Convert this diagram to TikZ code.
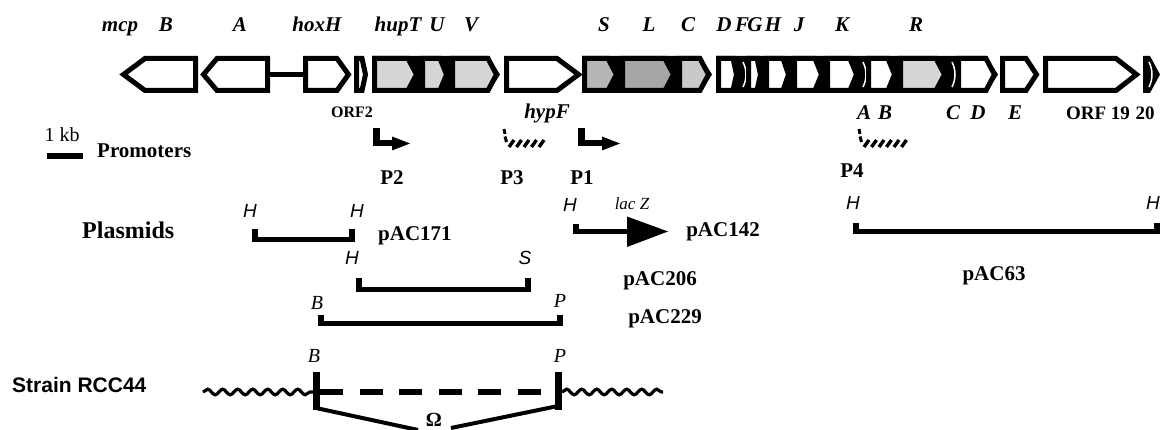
\documentclass[tikz,border=0pt]{standalone}
\usepackage{fontspec}
\setmainfont{Liberation Serif}
\newfontfamily\helv{Liberation Sans}
\usetikzlibrary{decorations.pathmorphing}

\tikzset{
  gene/.style={draw=black, line width=5pt, line join=miter},
  glabel/.style={font=\fontsize{21}{21}\selectfont\bfseries\itshape, anchor=base, inner sep=0pt},
  blabel/.style={font=\fontsize{21}{21}\selectfont\bfseries, anchor=base, inner sep=0pt},
  hsite/.style={font=\fontsize{19}{19}\selectfont\helv\itshape, anchor=base, inner sep=0pt},
  tsite/.style={font=\fontsize{20}{20}\selectfont\itshape, anchor=base, inner sep=0pt},
  bar/.style={line width=5pt},
  chrom/.style={line width=3.2pt, decorate, decoration={snake, amplitude=2.8pt, segment length=15pt}},
}

% rightward gene: left edge, end of body, tip, fill colour
\newcommand{\rgene}[4]{%
  \filldraw[gene, fill=#4] ({#1+2.5},58.5) -- (#2,58.5) -- ({#3-3.5},74.5) -- (#2,90.5) -- ({#1+2.5},90.5) -- cycle;}
% leftward gene: tip, start of body, right edge, fill colour
\newcommand{\lgene}[4]{%
  \filldraw[gene, fill=#4] ({#1+3.5},74.5) -- (#2,58.5) -- ({#3-2.5},58.5) -- ({#3-2.5},90.5) -- (#2,90.5) -- cycle;}
% black backing of a run of touching genes
\newcommand{\genehull}[3]{%
  \fill (#1,56) -- (#2,56) -- (#3,74.5) -- (#2,93) -- (#1,93) -- cycle;}
% very short gene inside a run
\newcommand{\slimgene}[1]{%
  \draw[white, line width=1.5pt] (#1,62) .. controls ({#1+4},70) and ({#1+4},79) .. (#1,87);}
% bent promoter arrow: position, tip
\newcommand{\bentprom}[2]{%
  \fill ({#1-3},128) rectangle ({#1+4},146.5);
  \fill ({#1-3},140.5) rectangle ({#2-18},146.5);
  \fill ({#2-18},136.5) -- (#2,143.5) -- ({#2-18},150.5) -- cycle;}
% hatched (putative) promoter: position, number of strokes - 1
\newcommand{\hatchprom}[2]{%
  \draw[line width=3pt] (#1,129) -- ({#1+1},134);
  \draw[line width=3pt] ({#1+1},136.5) -- ({#1+2.5},142);
  \foreach \i in {0,...,#2}{\draw[line width=3.4pt] ({#1+5+7.5*\i},147) -- ({#1+10+7.5*\i},140);}}
% cloned fragment: name, left, right, line height, top of end marks
\newcommand{\plasmid}[5]{%
  \coordinate (#1-l) at (#2,#4); \coordinate (#1-r) at (#3,#4);
  \draw[bar] (#1-l) -- (#1-r);
  \fill (#2,#5) rectangle ({#2+6},{#4+2.5});
  \fill ({#3-6},#5) rectangle (#3,{#4+2.5});}

\begin{document}
\begin{tikzpicture}[x=1pt, y=-1pt]
\useasboundingbox (0,0) rectangle (1160,430);

% ---------- gene map ----------
\lgene{120}{145}{198}{white}
\lgene{200}{217}{270}{white}
\draw[line width=5pt] (270,74.5) -- (303,74.5);
\rgene{303}{337}{352}{white}
\rgene{354}{362}{369}{white}

\genehull{372}{488}{500}
\rgene{372}{408}{420}{gray!32}
\rgene{420}{440}{450}{gray!32}
\rgene{450}{488}{500}{gray!32}

\rgene{504}{557}{582}{white}

\genehull{582}{700}{712}
\rgene{582}{608}{620}{gray!58}
\rgene{620}{665}{677}{gray!70}
\rgene{677}{700}{712}{gray!42}

\genehull{716}{986}{998}
\rgene{716}{733}{740}{white}
\slimgene{743}
\rgene{746}{757}{764}{white}
\rgene{764}{783}{792}{white}
\rgene{792}{815}{825}{white}
\rgene{825}{850}{860}{white}
\slimgene{863}
\rgene{866}{888}{898}{white}
\rgene{898}{936}{948}{gray!32}
\slimgene{952}
\rgene{956}{986}{998}{white}

\rgene{1000}{1026}{1040}{white}
\rgene{1043}{1116}{1140}{white}
\genehull{1143}{1150}{1160}
\slimgene{1149}

% gene names above the map
\node[glabel] (g-mcp)  at (120,32) {mcp};
\node[glabel] (g-B)    at (166,32) {B};
\node[glabel] (g-A)    at (240,32) {A};
\node[glabel] (g-hoxH) at (317,32) {hoxH};
\node[glabel] (g-hupT) at (398,32) {hupT};
\node[glabel] (g-U)    at (437,32) {U};
\node[glabel] (g-V)    at (471,32) {V};
\node[glabel] (g-S)    at (604,32) {S};
\node[glabel] (g-L)    at (649,32) {L};
\node[glabel] (g-C)    at (688,32) {C};
\node[glabel] (g-D)    at (724,32) {D};
\node[glabel] (g-F)    at (742,32) {F};
\node[glabel] (g-G)    at (755,32) {G};
\node[glabel] (g-H)    at (773,32) {H};
\node[glabel] (g-J)    at (799,32) {J};
\node[glabel] (g-K)    at (842,32) {K};
\node[glabel] (g-R)    at (916,32) {R};

% gene names below the map
\node[blabel, font=\fontsize{16}{16}\selectfont\bfseries] (g-orf2) at (352,118) {ORF2};
\node[glabel] (g-hypF) at (547,119) {hypF};
\node[glabel] (g-hypA) at (864,120) {A};
\node[glabel] (g-hypB) at (885,120) {B};
\node[glabel] (g-hypC) at (953,120) {C};
\node[glabel] (g-hypD) at (978,120) {D};
\node[glabel] (g-hypE) at (1015,120) {E};
\node[blabel, font=\fontsize{19}{19}\selectfont\bfseries] (g-orf19) at (1098,120) {ORF 19};
\node[blabel, font=\fontsize{19}{19}\selectfont\bfseries] (g-orf20) at (1145,120) {20};

% ---------- scale and promoters ----------
\node[anchor=base, inner sep=0pt, font=\fontsize{20}{20}\selectfont] (kb) at (62,142) {1 kb};
\draw[line width=6pt] (47,156) -- (83,156);
\node[blabel, anchor=base west] (promoters) at (97,158) {Promoters};

\bentprom{376}{410}
\bentprom{581}{620}
\hatchprom{504}{4}
\hatchprom{859}{5}

\node[blabel] (p2) at (392,185) {P2};
\node[blabel] (p3) at (512,185) {P3};
\node[blabel] (p1) at (582,185) {P1};
\node[blabel] (p4) at (852,178) {P4};

% ---------- plasmids ----------
\node[blabel, anchor=base west, font=\fontsize{24}{24}\selectfont\bfseries] (plasmids) at (82,239) {Plasmids};

\plasmid{p171}{252}{355}{239.5}{229}
\node[hsite] (h171a) at (250,218) {H};
\node[hsite] (h171b) at (357,218) {H};
\node[blabel, anchor=base west] (n171) at (378,241) {pAC171};

\plasmid{p206}{356}{531}{289.5}{278}
\node[hsite] (h206) at (352,265) {H};
\node[hsite] (s206) at (525,265) {S};
\node[blabel] (n206) at (660,286) {pAC206};

\plasmid{p229}{318}{563}{323.5}{315}
\node[tsite] (b229) at (317,310) {B};
\node[tsite] (p229) at (560,308) {P};
\node[blabel] (n229) at (665,324) {pAC229};

% lacZ fusion
\coordinate (lz-start) at (573,231.5);
\coordinate (lz-head) at (627,231.5);
\fill (573,224) rectangle (579,234);
\draw[bar] (lz-start) -- (lz-head);
\fill (627,216.5) -- (668,231.5) -- (627,247) -- cycle;
\node[hsite] (h142) at (570,212) {H};
\node[anchor=base, inner sep=0pt, font=\fontsize{17}{17}\selectfont\itshape] (lacz) at (632,210) {lac Z};
\node[blabel] (n142) at (723,237) {pAC142};

\plasmid{p63}{853}{1160}{231.5}{223}
\node[hsite] (h63a) at (853,210) {H};
\node[hsite, anchor=base east] (h63b) at (1160,210) {H};
\node[blabel] (n63) at (994,281) {pAC63};

% ---------- mutant strain ----------
\node[anchor=base west, inner sep=0pt, font=\fontsize{21}{21}\selectfont\helv\bfseries] (strain) at (12,393) {Strain RCC44};
\node[tsite] (bs) at (314,363) {B};
\node[tsite] (ps) at (560,363) {P};

\coordinate (wl-a) at (203,392);
\coordinate (wl-b) at (313,392);
\coordinate (wr-a) at (562,392);
\coordinate (wr-b) at (663,392);
\draw[chrom] (wl-a) -- (wl-b);
\draw[chrom] (wr-a) -- (wr-b);
\fill (313,372) rectangle (320,410);
\fill (555,372) rectangle (562,410);
\coordinate (del-a) at (320,392.5);
\coordinate (del-b) at (555,392.5);
\draw[line width=6pt, dash pattern=on 23pt off 16.6pt] (del-a) -- (del-b);

\node[anchor=base, inner sep=0pt, font=\fontsize{20}{20}\selectfont\bfseries] (omega) at (434,426) {Ω};
\coordinate (om-l) at (316,408);
\coordinate (om-r) at (558,406);
\coordinate (om-la) at (418,430);
\coordinate (om-ra) at (451,428);
\draw[line width=4pt] (om-l) -- (om-la);
\draw[line width=4pt] (om-r) -- (om-ra);
\end{tikzpicture}
\end{document}
